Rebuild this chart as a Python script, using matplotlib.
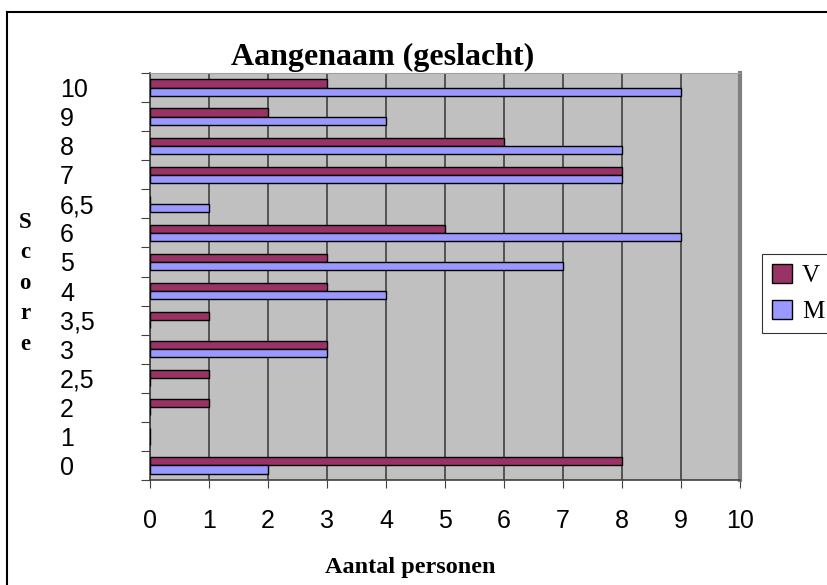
import matplotlib.pyplot as plt
import numpy as np

scores = ["0", "1", "2", "2,5", "3", "3,5", "4", "5", "6", "6,5", "7", "8", "9", "10"]
vrouw = [8, 0, 1, 1, 3, 1, 3, 3, 5, 0, 8, 6, 2, 3]
man = [2, 0, 0, 0, 3, 0, 4, 7, 9, 1, 8, 8, 4, 9]
x_ticks = list(range(0, 11))

W, H = 827, 585
fig = plt.figure(figsize=(W / 100, H / 100), dpi=100)
ax = fig.add_axes([150 / W, 1 - 480 / H, 590 / W, 407 / H])

ax.set_facecolor("#c0c0c0")
pos = np.arange(len(scores)) + 0.5
bh = 0.28
ax.barh(pos + bh / 2, vrouw, height=bh, color="#993366", edgecolor="black",
        linewidth=1, label="V", zorder=3)
ax.barh(pos - bh / 2, man, height=bh, color="#9999ff", edgecolor="black",
        linewidth=1, label="M", zorder=3)

ax.set_xlim(0, 10)
ax.set_ylim(0, len(scores))
ax.set_xticks(x_ticks)
ax.set_xticklabels([str(t) for t in x_ticks], fontsize=18, family="Liberation Sans")
ax.xaxis.grid(True, color="#404040", linewidth=1.2, zorder=1)
ax.set_axisbelow(True)

# category boundaries as ticks, labels in between
ax.set_yticks(np.arange(len(scores) + 1))
ax.set_yticklabels([])
ax.set_yticks(pos, minor=True)
ax.set_yticklabels(scores, minor=True, fontsize=18, family="Liberation Sans")
ax.tick_params(axis="y", which="major", length=6.5, direction="out", color="#404040")
ax.tick_params(axis="y", which="minor", length=0, pad=64.8)
for lbl in ax.get_yticklabels(minor=True):
    lbl.set_horizontalalignment("left")
ax.tick_params(axis="x", length=6, direction="out", color="#404040", pad=15)

for s in ["left", "bottom"]:
    ax.spines[s].set_color("#404040")
    ax.spines[s].set_linewidth(1.2)
ax.spines["top"].set_color("#a0a0a0")
ax.spines["right"].set_color("#808080")
ax.spines["right"].set_linewidth(3)

fig.text(383 / W, 1 - 65 / H, "Aangenaam (geslacht)", ha="center", va="baseline",
         fontsize=23, fontweight="bold", family="Liberation Serif")
fig.text(410 / W, 1 - 573 / H, "Aantal personen", ha="center", va="baseline",
         fontsize=17.5, fontweight="bold", family="Liberation Serif")
for i, ch in enumerate("Score"):
    fig.text(25 / W, 1 - (222 + i * 30.5) / H, ch, ha="center", va="center",
             fontsize=16.5, fontweight="bold", family="Liberation Serif")

leg = fig.legend(loc="upper left", bbox_to_anchor=(762 / W, 1 - 254 / H),
                 borderaxespad=0, frameon=True, fancybox=False, edgecolor="black",
                 prop={"family": "Liberation Serif", "size": 18},
                 handlelength=0.8, handleheight=0.8, handletextpad=0.4,
                 borderpad=0.4, labelspacing=0.5)
leg.get_frame().set_linewidth(0.8)

# outer frame
fig.add_artist(plt.Line2D([7 / W, 7 / W], [0, 1 - 12 / H], color="black", lw=1.5,
                          transform=fig.transFigure))
fig.add_artist(plt.Line2D([7 / W, 1], [1 - 12 / H, 1 - 12 / H], color="black", lw=1.5,
                          transform=fig.transFigure))

fig.savefig("out.png", dpi=100)
